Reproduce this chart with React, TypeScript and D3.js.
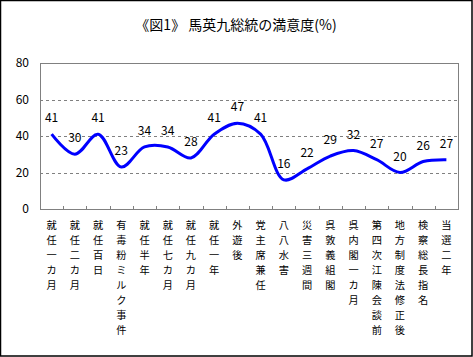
import React from "react";
import * as d3 from "d3";

const categories = [
  "就任一カ月", "就任二カ月", "就任百日", "有毒粉ミルク事件", "就任半年", "就任七カ月",
  "就任九カ月", "就任一年", "外遊後", "党主席兼任", "八八水害", "災害三週間",
  "呉敦義組閣", "呉内閣一カ月", "第四次江陳会談前", "地方制度法修正後", "検察総長指名", "当選二年",
];
const values = [41, 30, 41, 23, 34, 34, 28, 41, 47, 41, 16, 22, 29, 32, 27, 20, 26, 27];
const yTicks = [0, 20, 40, 60, 80];
const title = "《図1》 馬英九総統の満意度(%)";

const W = 473;
const H = 357;
const plot = { left: 40, right: 458, top: 63, bottom: 209 };
const font = "'Noto Sans CJK JP', 'Noto Sans', sans-serif";

export default function App() {
  const x = d3
    .scaleBand<number>()
    .domain(d3.range(categories.length))
    .range([plot.left, plot.right]);
  const y = d3.scaleLinear().domain([0, 80]).range([plot.bottom, plot.top]);
  const cx = (i: number) => (x(i) as number) + x.bandwidth() / 2;

  const line = d3
    .line<number>()
    .x((_, i) => cx(i))
    .y((d) => y(d))
    .curve(d3.curveCatmullRom.alpha(0.5));

  return (
    <svg
      width={W}
      height={H}
      style={{ position: "absolute", left: 0, top: 0, background: "#fff" }}
      fontFamily={font}
    >
      <rect x={0.5} y={0.5} width={W - 1.5} height={H - 1.5} fill="#fff" stroke="#000" strokeWidth={1.5} />
      <text x={236} y={30} textAnchor="middle" fontSize={14} fill="#000">
        {title}
      </text>
      {yTicks.slice(1, -1).map((t) => (
        <line
          key={t}
          x1={plot.left}
          x2={plot.right}
          y1={Math.round(y(t)) + 0.5}
          y2={Math.round(y(t)) + 0.5}
          stroke="#808080"
          strokeDasharray="3,3"
        />
      ))}
      <rect
        x={plot.left + 0.5}
        y={plot.top + 0.5}
        width={plot.right - plot.left}
        height={plot.bottom - plot.top}
        fill="none"
        stroke="#808080"
      />
      {d3.range(1, categories.length).map((i) => (
        <line
          key={i}
          x1={Math.round(x(i) as number) + 0.5}
          x2={Math.round(x(i) as number) + 0.5}
          y1={plot.bottom}
          y2={plot.bottom - 3}
          stroke="#808080"
        />
      ))}
      {yTicks.map((t) => (
        <text key={t} x={29} y={y(t) + 4} textAnchor="end" fontSize={12} fill="#000">
          {t}
        </text>
      ))}
      <path d={line(values) || ""} fill="none" stroke="#0000ff" strokeWidth={3} strokeLinejoin="round" />
      {values.map((v, i) => (
        <text key={i} x={cx(i)} y={y(v) - 12} textAnchor="middle" fontSize={12} fill="#000">
          {v}
        </text>
      ))}
      {categories.map((c, i) => (
        <text key={i} x={cx(i)} textAnchor="middle" fontSize={10.2} fill="#000">
          {Array.from(c).map((ch, j) => (
            <tspan key={j} x={cx(i)} y={229 + j * 15}>
              {ch}
            </tspan>
          ))}
        </text>
      ))}
    </svg>
  );
}
